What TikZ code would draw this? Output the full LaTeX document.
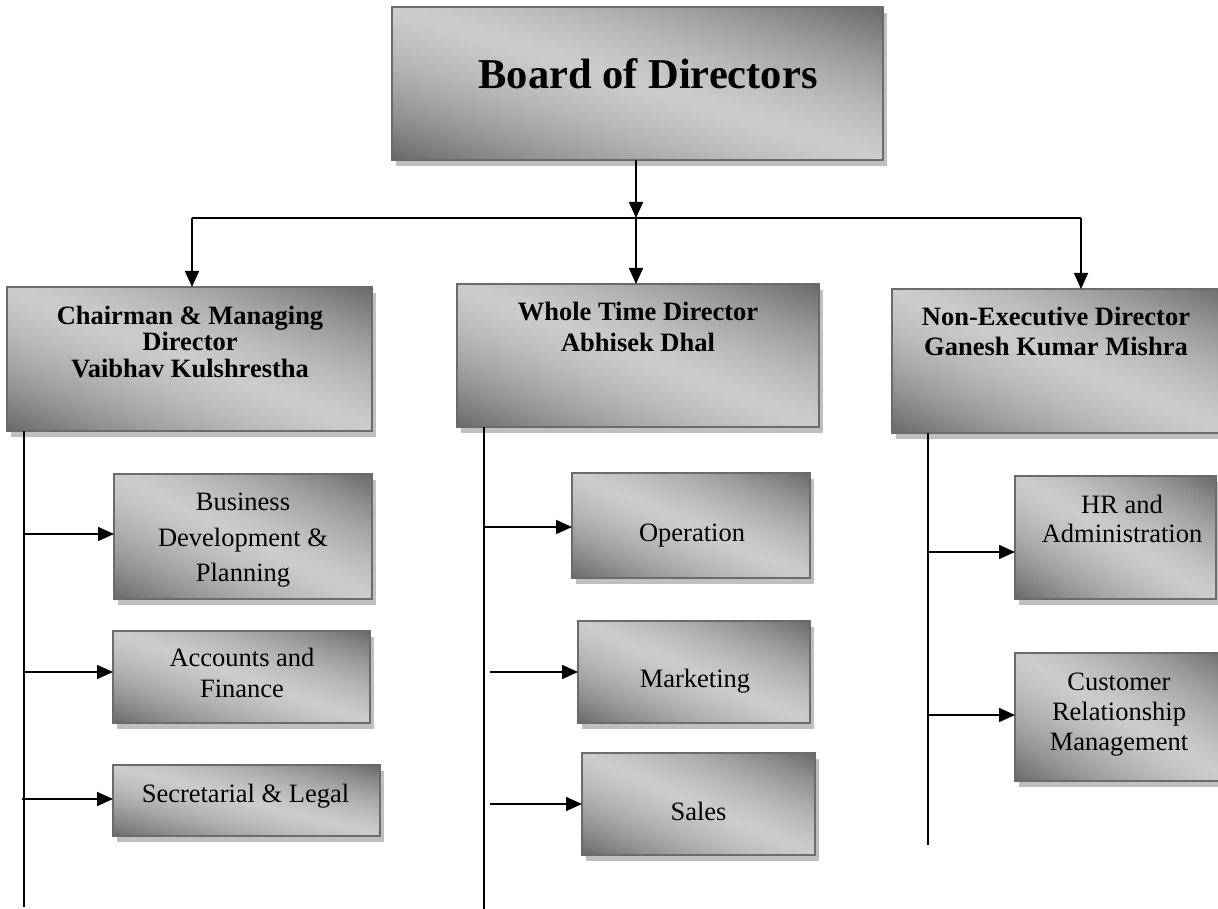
\documentclass[tikz,border=0pt]{standalone}
\usepackage{fontspec}
\setmainfont{Liberation Serif}
\usetikzlibrary{arrows.meta,calc,backgrounds}
\newcommand{\mystack}[2]{\vtop{\baselineskip=#1pt\lineskiplimit=-1000pt\relax\halign{\hfil##\hfil\cr#2\crcr}}}
\pgfdeclarefunctionalshading{diaggray}{\pgfpoint{0bp}{0bp}}{\pgfpoint{100bp}{100bp}}{}{%
  add 50 sub 100 div 2 mul 1 sub abs 1 exch sub dup 0.5 mul 1.5 exch sub mul 0.39 mul 0.41 add dup dup}
\definecolor{shadowc}{gray}{0.75}
\definecolor{borderc}{gray}{0.42}
\begin{document}
\begin{tikzpicture}[x=1pt,y=-1pt,
  box/.style={draw=borderc, line width=2pt, inner sep=0pt, outer sep=0pt, shading=diaggray},
  txt/.style={inner sep=0pt, outer sep=0pt, anchor=base, font=\fontsize{26.5pt}{30pt}\selectfont},
  hdr/.style={txt, font=\fontsize{26.5pt}{30pt}\selectfont\bfseries},
  spine/.style={line width=2.4pt},
  conn/.style={line width=1.6pt},
  arr/.style={conn, -{Triangle[length=16pt,width=14pt]}},
  shadowbox/.style={fill=shadowc}]
\useasboundingbox (0,0) rectangle (1218,909);

% boxes
\node[box, minimum width=491, minimum height=153] (board) at (637.5,83.5) {};
\node[box, minimum width=365, minimum height=144] (chair) at (189.5,359) {};
\node[box, minimum width=362, minimum height=143] (whole) at (638,355.5) {};
\node[box, minimum width=340, minimum height=144] (nonexec) at (1062,361) {};
\node[box, minimum width=258, minimum height=125] (busdev) at (243,536.5) {};
\node[box, minimum width=257, minimum height=92] (accounts) at (241.5,677) {};
\node[box, minimum width=267, minimum height=71] (secret) at (246.5,800.5) {};
\node[box, minimum width=238, minimum height=105] (oper) at (691,525.5) {};
\node[box, minimum width=232, minimum height=102] (market) at (694,672) {};
\node[box, minimum width=233, minimum height=102] (sales) at (698.5,804) {};
\node[box, minimum width=201, minimum height=123] (hr) at (1115.5,537.5) {};
\node[box, minimum width=217, minimum height=128] (crm) at (1123.5,717) {};

% shadows
\begin{pgfonlayer}{background}
\foreach \b in {board,chair,whole,nonexec,busdev,accounts,secret,oper,market,sales,hr,crm}
  \fill[shadowbox] ($(\b.south west)+(4,6)$) rectangle ($(\b.north east)+(4,6)$);
\end{pgfonlayer}

% texts
\node[hdr, font=\fontsize{42.5pt}{48pt}\selectfont\bfseries] (tboard) at (648,89) {Board of Directors};
\node[hdr] (tchair) at (190,324) {\mystack{26.7}{Chairman \& Managing\cr Director\cr Vaibhav Kulshrestha}};
\node[hdr] (twhole) at (638,320) {\mystack{31}{Whole Time Director\cr Abhisek Dhal}};
\node[hdr] (tnonexec) at (1056,325) {\mystack{30}{Non-Executive Director\cr Ganesh Kumar Mishra}};
\node[txt] (tbusdev) at (243,510.7) {\mystack{35.5}{Business\cr Development \&\cr Planning}};
\node[txt] (taccounts) at (242,666.7) {\mystack{30.6}{Accounts and\cr Finance}};
\node[txt] (tsecret) at (245.5,802) {Secretarial \& Legal};
\node[txt] (toper) at (692,541) {Operation};
\node[txt] (tmarket) at (695,687) {Marketing};
\node[txt] (tsales) at (698.5,820) {Sales};
\node[txt] (thr) at (1122,513) {\mystack{29}{HR and\cr Administration}};
\node[txt] (tcrm) at (1119,690) {\mystack{30}{Customer\cr Relationship\cr Management}};

% top connectors
\coordinate (J) at (636,218);
\coordinate (L) at (192,218);
\coordinate (R) at (1081,218);
\draw[arr] (board.south -| J) -- (J);
\draw[conn] (L) -- (R);
\draw[arr] (L) -- (L |- chair.north);
\draw[arr] (J) -- (J |- whole.north);
\draw[arr] (R) -- (R |- nonexec.north);

% left spine
\coordinate (cs) at (24,907);
\draw[spine] (chair.south -| cs) -- (cs);
\coordinate (c1) at (25,534);
\coordinate (c2) at (25,672);
\coordinate (c3) at (22,799);
\draw[arr] (c1) -- (c1 -| busdev.west);
\draw[arr] (c2) -- (c2 -| accounts.west);
\draw[arr] (c3) -- (c3 -| secret.west);

% middle spine
\coordinate (ms) at (484,909);
\draw[spine] (whole.south -| ms) -- (ms);
\coordinate (m1) at (485,527);
\coordinate (m2) at (490,672);
\coordinate (m3) at (490,804);
\draw[arr] (m1) -- (m1 -| oper.west);
\draw[arr] (m2) -- (m2 -| market.west);
\draw[arr] (m3) -- (m3 -| sales.west);

% right spine
\coordinate (rs) at (928,845);
\draw[spine] (nonexec.south -| rs) -- (rs);
\coordinate (r1) at (929,552);
\coordinate (r2) at (929,715);
\draw[arr] (r1) -- (r1 -| hr.west);
\draw[arr] (r2) -- (r2 -| crm.west);
\end{tikzpicture}
\end{document}
